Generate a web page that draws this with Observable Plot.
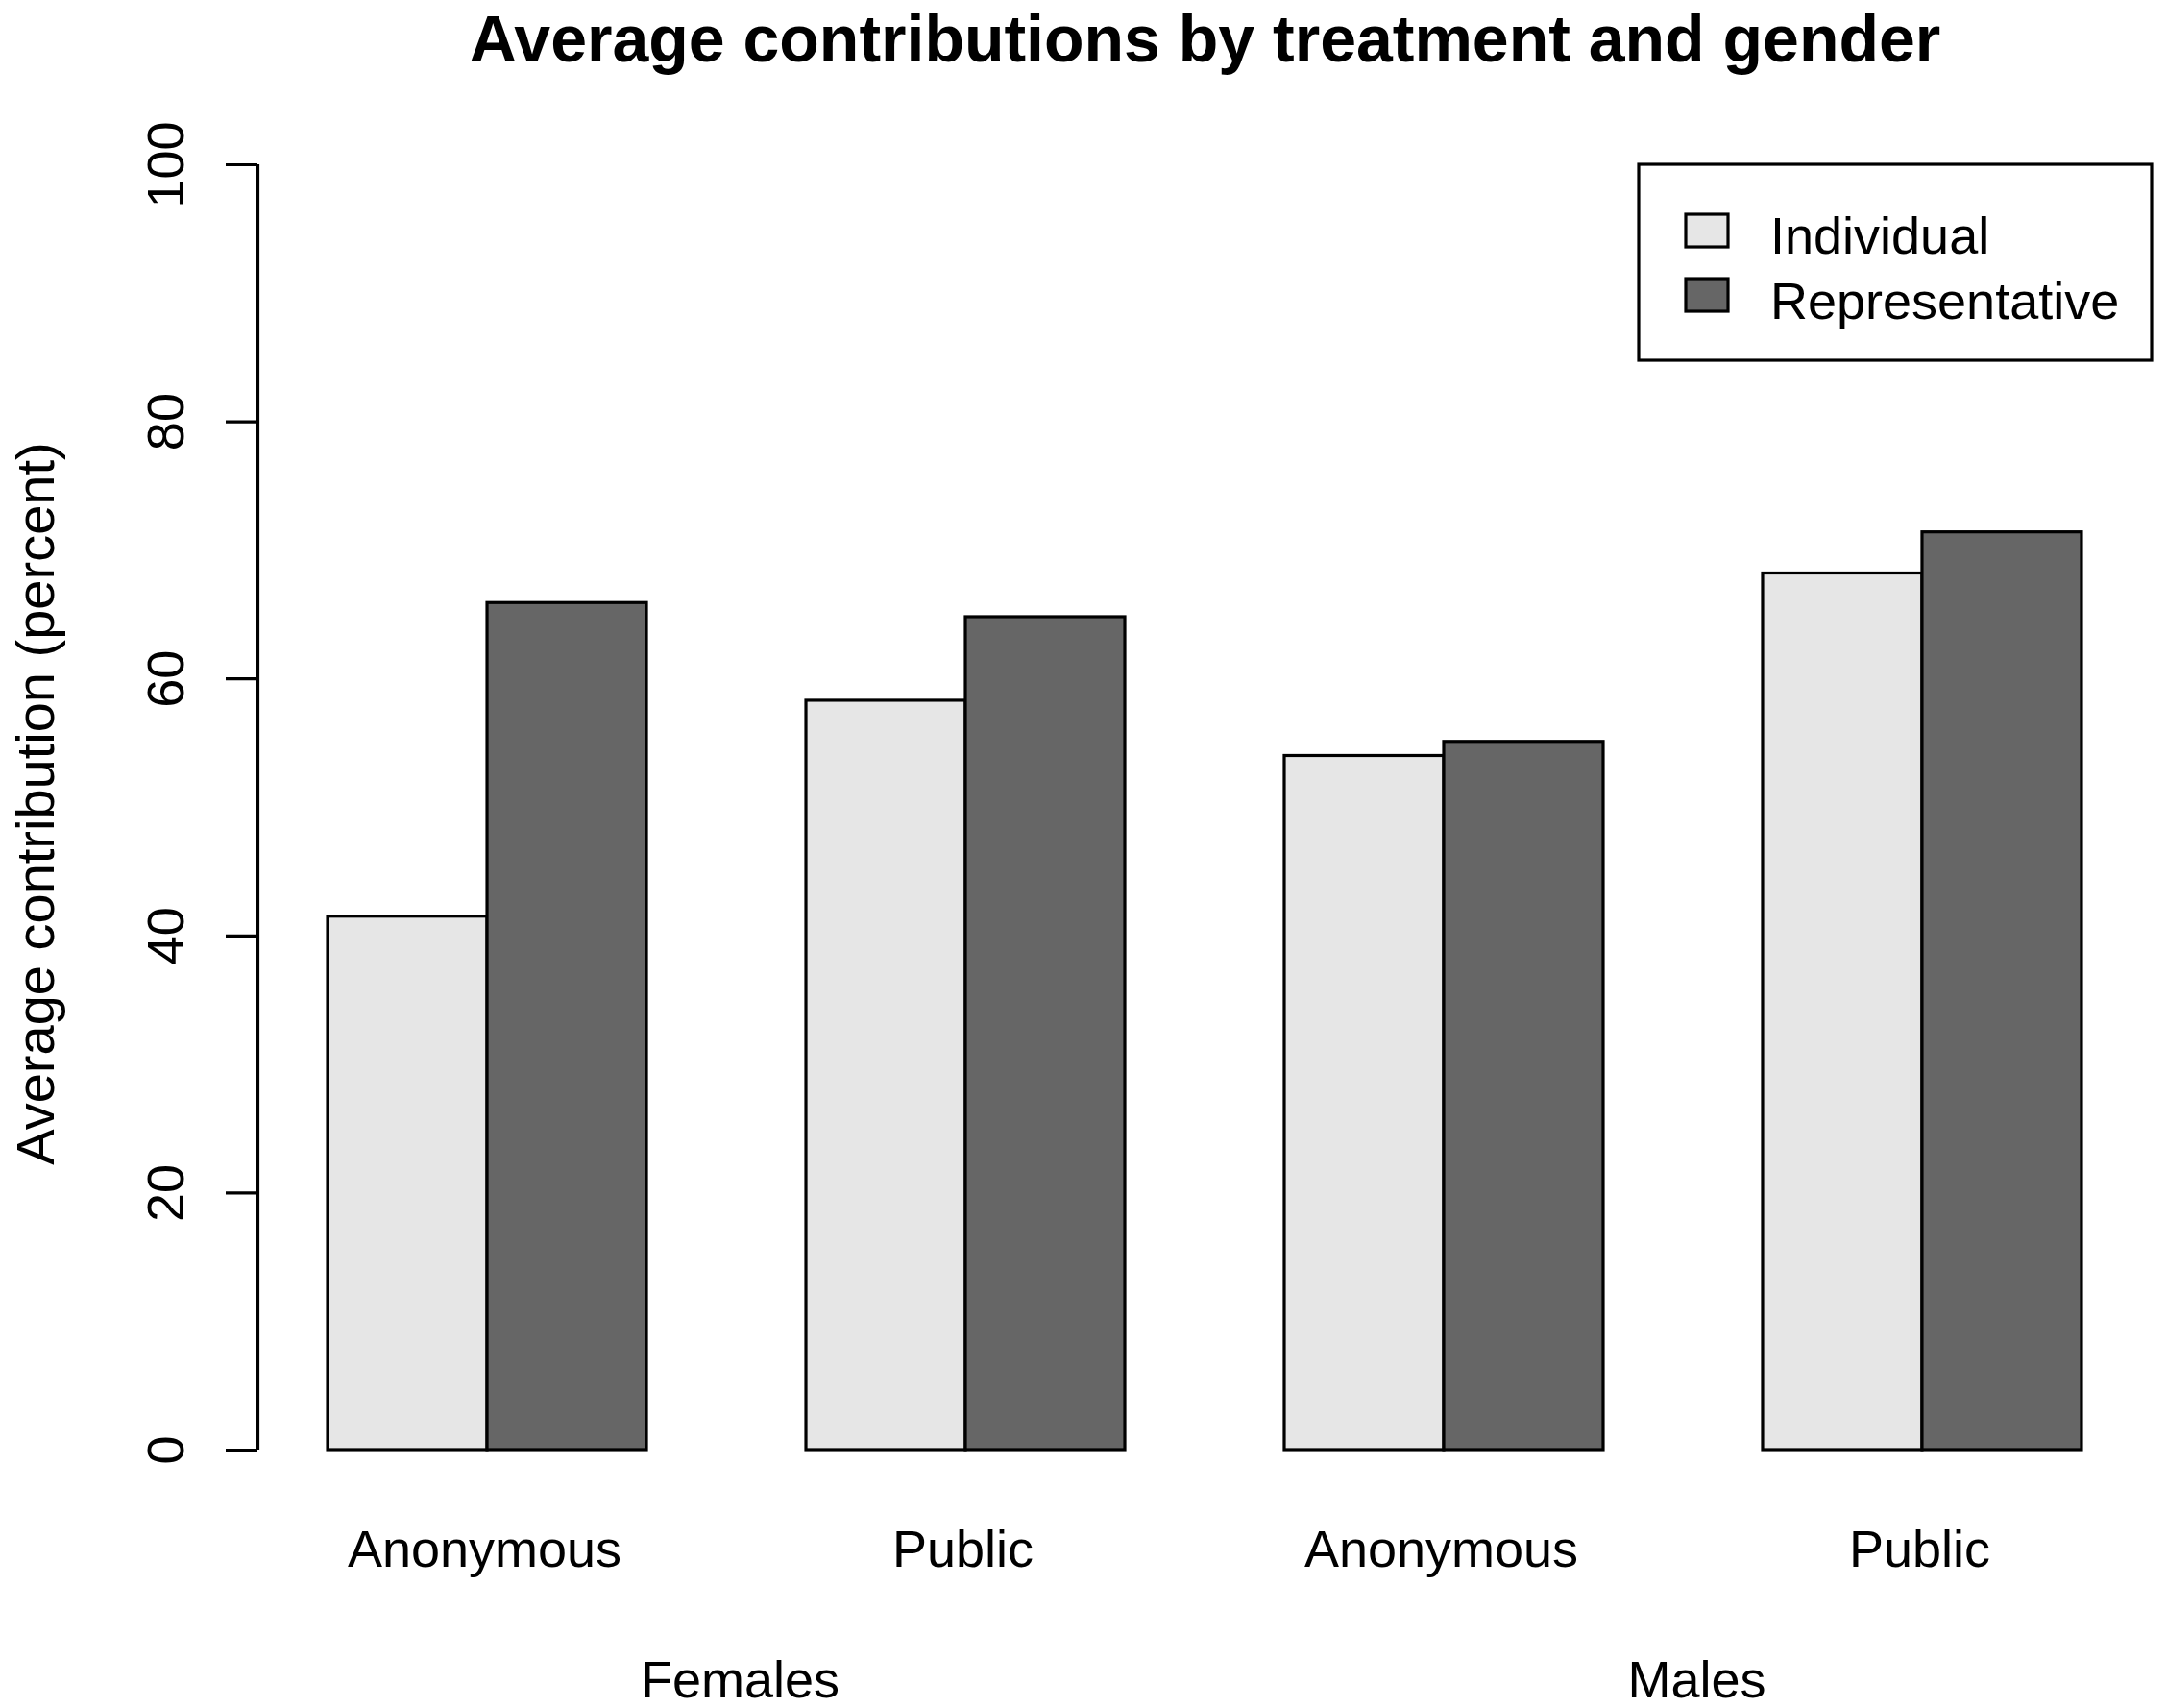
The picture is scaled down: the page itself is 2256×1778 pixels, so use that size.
<!DOCTYPE html>
<html><head><meta charset="utf-8">
<script src="https://cdn.jsdelivr.net/npm/d3@7"></script>
<script src="https://cdn.jsdelivr.net/npm/@observablehq/plot@0.6"></script>
<style>body{margin:0;background:#fff}</style>
</head><body><div id="chart"></div>
<script>
const title = "Average contributions by treatment and gender";
const yLabel = "Average contribution (percent)";
const genders = ["Females", "Males"];
const treatments = ["Anonymous", "Public"];
const types = ["Individual", "Representative"];
const individual = [41.5, 58.3, 54.0, 68.2];
const representative = [65.9, 64.8, 55.1, 71.4];
const yTicks = [0, 20, 40, 60, 80, 100];
const fills = ["#e6e6e6", "#666666"];

// R barplot(beside=TRUE) layout: bar width 1, one bar-width gap before each group
const groups = genders.flatMap(g => treatments.map(t => ({gender: g, treatment: t})));
const bars = [];
groups.forEach((grp, i) => {
  [individual, representative].forEach((vals, j) => {
    const x1 = 1 + 3 * i + j;
    bars.push({...grp, type: types[j], value: vals[i], x1, x2: x1 + 1});
  });
});
const groupCenters = groups.map((g, i) => ({...g, x: 2 + 3 * i}));
const genderCenters = genders.map((g, k) => ({gender: g, x: (groupCenters[2 * k].x + groupCenters[2 * k + 1].x) / 2}));
const xMin = d3.min(bars, d => d.x1), xMax = d3.max(bars, d => d.x2);
const xPad = (xMax - xMin) * 0.04;
const yPad = (yTicks[yTicks.length - 1] - yTicks[0]) * 0.04;

const SW = 3.2;
const FS = 54;
function legendMark(index, scales, values, dims) {
  const right = dims.width - dims.marginRight;
  const top = scales.y(yTicks[yTicks.length - 1]);
  const g = d3.create("svg:g");
  g.append("rect").attr("x", right - 534).attr("y", top).attr("width", 534).attr("height", 204)
    .attr("fill", "white").attr("stroke", "black").attr("stroke-width", SW);
  types.forEach((t, i) => {
    g.append("rect").attr("x", right - 485).attr("y", top + 52 + 67 * i).attr("width", 44).attr("height", 34)
      .attr("fill", scales.color(t)).attr("stroke", "black").attr("stroke-width", SW);
    g.append("text").attr("x", right - 397).attr("y", top + 93 + 68 * i)
      .attr("text-anchor", "start").attr("font-size", FS).attr("fill", "black").text(t);
  });
  return g.node();
}

const chart = Plot.plot({
  width: 2256,
  height: 1778,
  marginLeft: 268,
  marginRight: 16,
  marginTop: 117.5,
  marginBottom: 215.5,
  style: {fontFamily: "'Liberation Sans', Arial, sans-serif", fontSize: FS + "px", background: "white", color: "black", overflow: "visible"},
  x: {domain: [xMin - xPad, xMax + xPad], axis: null},
  y: {domain: [yTicks[0] - yPad, yTicks[yTicks.length - 1] + yPad], label: null},
  color: {domain: types, range: fills},
  marks: [
    Plot.rect(bars, {x1: "x1", x2: "x2", y1: 0, y2: "value", fill: "type", stroke: "black", strokeWidth: SW}),
    Plot.axisY({ticks: yTicks, tickSize: 33, tickFormat: () => "", label: null, strokeWidth: SW}),
    Plot.ruleX([xMin - xPad], {y1: yTicks[0], y2: yTicks[yTicks.length - 1], strokeWidth: SW}),
    Plot.text(yTicks, {y: d => d, text: d => String(d), frameAnchor: "left", rotate: -90, dx: -78, lineAnchor: "bottom", textAnchor: "middle", fontSize: FS}),
    Plot.text([yLabel], {frameAnchor: "left", rotate: -90, dx: -213, dy: -4, lineAnchor: "bottom", textAnchor: "middle", fontSize: 56}),
    Plot.text(groupCenters, {x: "x", text: "treatment", frameAnchor: "bottom", dy: 67.5, dx: -3, lineAnchor: "bottom", fontSize: FS}),
    Plot.text(genderCenters, {x: "x", text: "gender", frameAnchor: "bottom", dy: 203.5, dx: 14, lineAnchor: "bottom", fontSize: FS}),
    Plot.text([title], {frameAnchor: "top", dy: -54.5, lineAnchor: "bottom", fontWeight: "bold", fontSize: 68}),
    legendMark
  ]
});
document.getElementById("chart").appendChild(chart);
</script>
</body></html>
